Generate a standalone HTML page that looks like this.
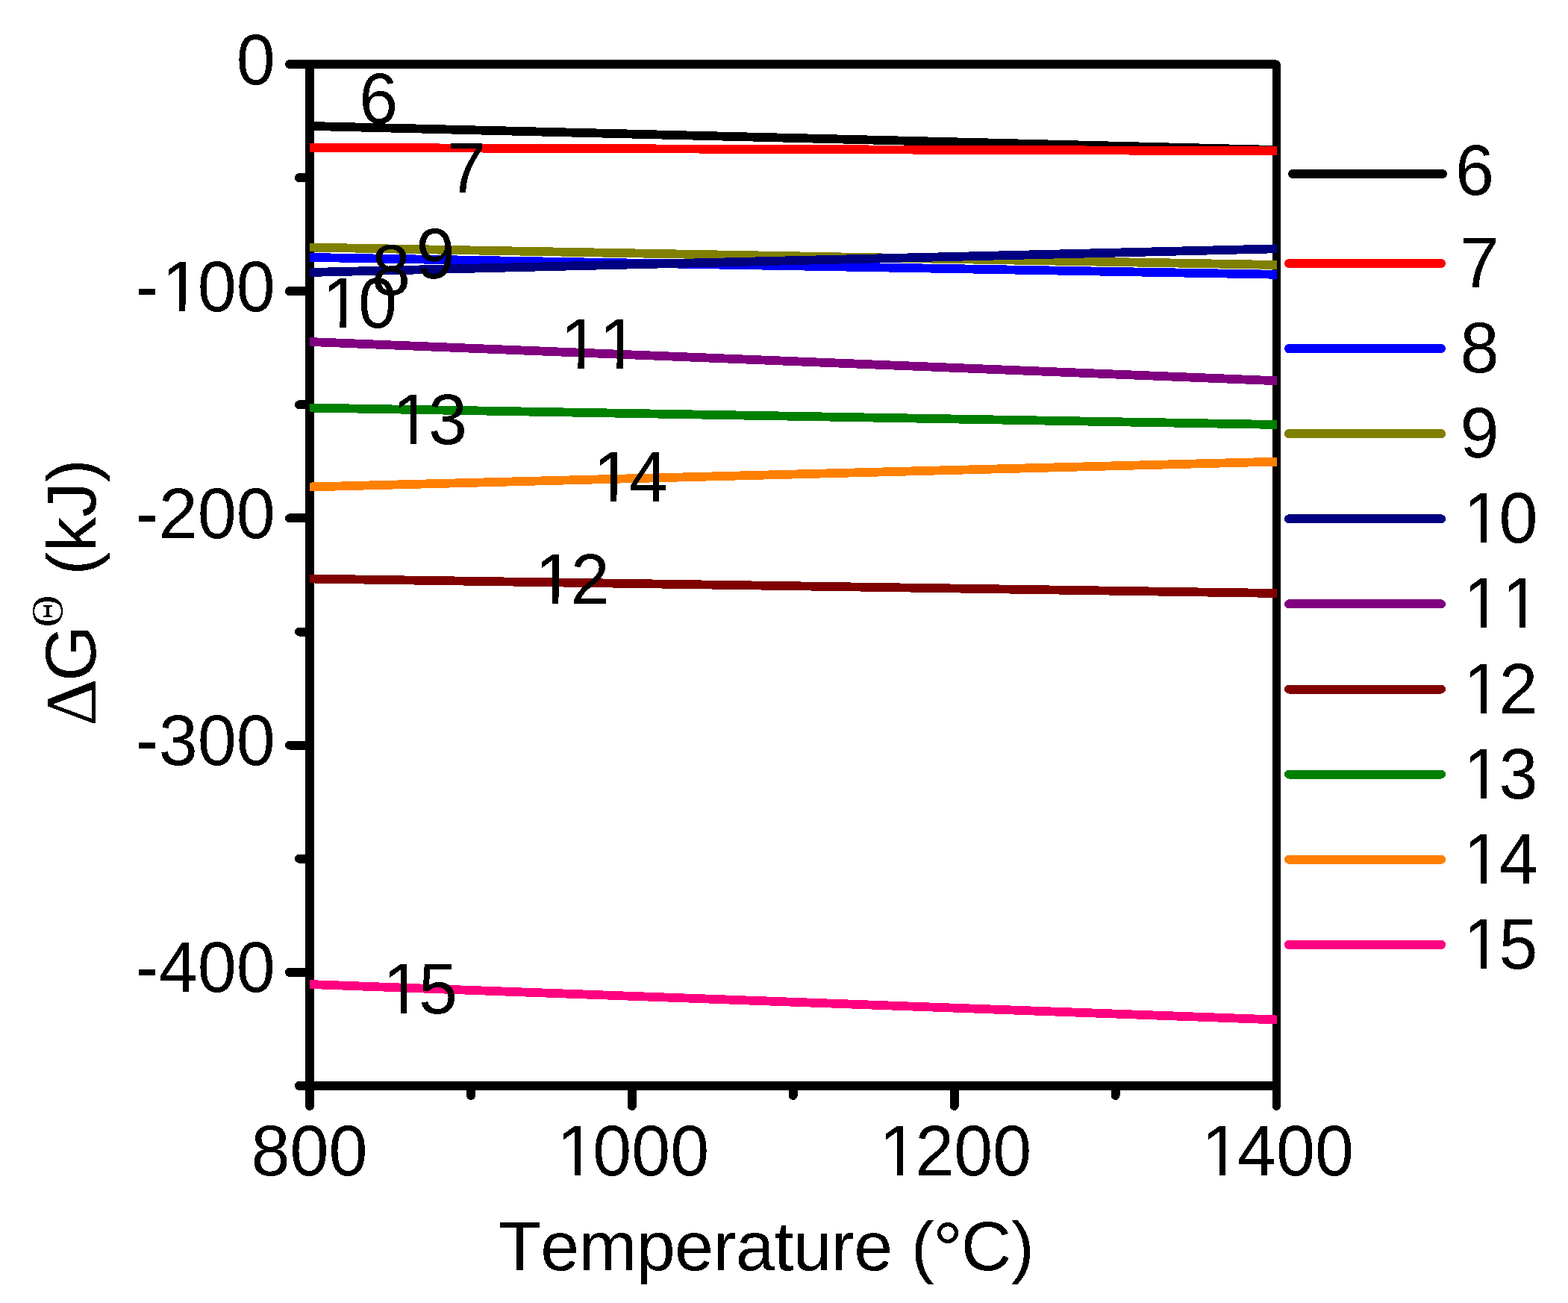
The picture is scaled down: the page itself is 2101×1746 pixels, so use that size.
<!DOCTYPE html>
<html lang="en"><head><meta charset="utf-8"><title>Standard Gibbs free energy vs temperature</title>
<style>html,body{margin:0;padding:0;background:#fff;overflow:hidden;} text{font-kerning:none;} svg{display:block;} text{filter:url(#bin);}</style></head>
<body>
<svg width="2101" height="1746" viewBox="0 0 2101 1746" shape-rendering="crispEdges">
<defs>
<filter id="bin" color-interpolation-filters="sRGB"><feComponentTransfer><feFuncA type="discrete" tableValues="0 1"/></feComponentTransfer></filter>
<mask id="m1" maskUnits="userSpaceOnUse" x="-50" y="-150" width="287" height="250"><rect x="-50" y="-150" width="287" height="250" fill="#fff"/><rect x="40.49" y="-8.99" width="18.00" height="11.99" fill="#000"/><rect x="66.49" y="-8.99" width="18.00" height="11.99" fill="#000"/></mask>
<mask id="m2" maskUnits="userSpaceOnUse" x="-50" y="-150" width="308" height="250"><rect x="-50" y="-150" width="308" height="250" fill="#fff"/><rect x="9.67" y="-8.99" width="18.00" height="11.99" fill="#000"/><rect x="35.67" y="-8.99" width="17.00" height="11.99" fill="#000"/></mask>
<mask id="m3" maskUnits="userSpaceOnUse" x="-50" y="-150" width="308" height="250"><rect x="-50" y="-150" width="308" height="250" fill="#fff"/><rect x="9.83" y="-8.99" width="18.00" height="11.99" fill="#000"/><rect x="35.83" y="-8.99" width="17.00" height="11.99" fill="#000"/></mask>
<mask id="m4" maskUnits="userSpaceOnUse" x="-50" y="-150" width="308" height="250"><rect x="-50" y="-150" width="308" height="250" fill="#fff"/><rect x="9.00" y="-8.99" width="19.00" height="11.99" fill="#000"/><rect x="36.00" y="-8.99" width="17.00" height="11.99" fill="#000"/></mask>
<mask id="m5" maskUnits="userSpaceOnUse" x="-50" y="-150" width="204" height="250"><rect x="-50" y="-150" width="204" height="250" fill="#fff"/><rect x="9.10" y="-8.99" width="18.00" height="11.99" fill="#000"/><rect x="36.10" y="-8.99" width="17.00" height="11.99" fill="#000"/></mask>
<mask id="m6" maskUnits="userSpaceOnUse" x="-50" y="-150" width="204" height="250"><rect x="-50" y="-150" width="204" height="250" fill="#fff"/><rect x="9.10" y="-8.99" width="18.00" height="11.99" fill="#000"/><rect x="36.10" y="-8.99" width="17.00" height="11.99" fill="#000"/><rect x="61.10" y="-8.99" width="18.00" height="11.99" fill="#000"/><rect x="88.10" y="-8.99" width="17.00" height="11.99" fill="#000"/></mask>
<mask id="m7" maskUnits="userSpaceOnUse" x="-50" y="-150" width="204" height="250"><rect x="-50" y="-150" width="204" height="250" fill="#fff"/><rect x="8.90" y="-8.99" width="19.00" height="11.99" fill="#000"/><rect x="35.90" y="-8.99" width="17.00" height="11.99" fill="#000"/></mask>
<mask id="m8" maskUnits="userSpaceOnUse" x="-50" y="-150" width="204" height="250"><rect x="-50" y="-150" width="204" height="250" fill="#fff"/><rect x="9.30" y="-8.99" width="18.00" height="11.99" fill="#000"/><rect x="35.30" y="-8.99" width="18.00" height="11.99" fill="#000"/></mask>
<mask id="m9" maskUnits="userSpaceOnUse" x="-50" y="-150" width="204" height="250"><rect x="-50" y="-150" width="204" height="250" fill="#fff"/><rect x="9.30" y="-8.99" width="18.00" height="11.99" fill="#000"/><rect x="35.30" y="-8.99" width="18.00" height="11.99" fill="#000"/></mask>
<mask id="m10" maskUnits="userSpaceOnUse" x="-50" y="-150" width="204" height="250"><rect x="-50" y="-150" width="204" height="250" fill="#fff"/><rect x="9.00" y="-8.99" width="19.00" height="11.99" fill="#000"/><rect x="36.00" y="-8.99" width="17.00" height="11.99" fill="#000"/></mask>
<mask id="m11" maskUnits="userSpaceOnUse" x="-50" y="-150" width="204" height="250"><rect x="-50" y="-150" width="204" height="250" fill="#fff"/><rect x="9.50" y="-8.99" width="18.00" height="11.99" fill="#000"/><rect x="35.50" y="-8.99" width="17.00" height="11.99" fill="#000"/></mask>
<mask id="m12" maskUnits="userSpaceOnUse" x="-50" y="-150" width="204" height="250"><rect x="-50" y="-150" width="204" height="250" fill="#fff"/><rect x="9.50" y="-8.99" width="18.00" height="11.99" fill="#000"/><rect x="35.50" y="-8.99" width="17.00" height="11.99" fill="#000"/><rect x="61.50" y="-8.99" width="18.00" height="11.99" fill="#000"/><rect x="87.50" y="-8.99" width="17.00" height="11.99" fill="#000"/></mask>
<mask id="m13" maskUnits="userSpaceOnUse" x="-50" y="-150" width="204" height="250"><rect x="-50" y="-150" width="204" height="250" fill="#fff"/><rect x="9.50" y="-8.99" width="18.00" height="11.99" fill="#000"/><rect x="35.50" y="-8.99" width="17.00" height="11.99" fill="#000"/></mask>
<mask id="m14" maskUnits="userSpaceOnUse" x="-50" y="-150" width="204" height="250"><rect x="-50" y="-150" width="204" height="250" fill="#fff"/><rect x="9.50" y="-8.99" width="18.00" height="11.99" fill="#000"/><rect x="35.50" y="-8.99" width="17.00" height="11.99" fill="#000"/></mask>
<mask id="m15" maskUnits="userSpaceOnUse" x="-50" y="-150" width="204" height="250"><rect x="-50" y="-150" width="204" height="250" fill="#fff"/><rect x="9.50" y="-8.99" width="18.00" height="11.99" fill="#000"/><rect x="35.50" y="-8.99" width="17.00" height="11.99" fill="#000"/></mask>
<mask id="m16" maskUnits="userSpaceOnUse" x="-50" y="-150" width="204" height="250"><rect x="-50" y="-150" width="204" height="250" fill="#fff"/><rect x="9.50" y="-8.99" width="18.00" height="11.99" fill="#000"/><rect x="35.50" y="-8.99" width="17.00" height="11.99" fill="#000"/></mask>
</defs>
<rect x="0" y="0" width="2101" height="1746" fill="#fff"/>
<path d="M1710.25,1454.90 H415.0 V86.0 H1710.25" fill="none" stroke="#000" stroke-width="12" stroke-linejoin="round"/>
<path d="M1680.5,86.0 H1710.25 V1454.90 H1680.5" fill="none" stroke="#000" stroke-width="11" stroke-linejoin="round"/>
<line x1="388.0" y1="86.00" x2="415.0" y2="86.00" stroke="#000" stroke-width="12" stroke-linecap="round"/>
<line x1="401.0" y1="238.10" x2="415.0" y2="238.10" stroke="#000" stroke-width="12" stroke-linecap="round"/>
<line x1="388.0" y1="390.20" x2="415.0" y2="390.20" stroke="#000" stroke-width="12" stroke-linecap="round"/>
<line x1="401.0" y1="542.30" x2="415.0" y2="542.30" stroke="#000" stroke-width="12" stroke-linecap="round"/>
<line x1="388.0" y1="694.40" x2="415.0" y2="694.40" stroke="#000" stroke-width="12" stroke-linecap="round"/>
<line x1="401.0" y1="846.50" x2="415.0" y2="846.50" stroke="#000" stroke-width="12" stroke-linecap="round"/>
<line x1="388.0" y1="998.60" x2="415.0" y2="998.60" stroke="#000" stroke-width="12" stroke-linecap="round"/>
<line x1="401.0" y1="1150.70" x2="415.0" y2="1150.70" stroke="#000" stroke-width="12" stroke-linecap="round"/>
<line x1="388.0" y1="1302.80" x2="415.0" y2="1302.80" stroke="#000" stroke-width="12" stroke-linecap="round"/>
<line x1="401.0" y1="1454.90" x2="415.0" y2="1454.90" stroke="#000" stroke-width="12" stroke-linecap="round"/>
<line x1="415.00" y1="1454.90" x2="415.00" y2="1481.90" stroke="#000" stroke-width="12" stroke-linecap="round"/>
<line x1="630.92" y1="1454.90" x2="630.92" y2="1467.90" stroke="#000" stroke-width="12" stroke-linecap="round"/>
<line x1="846.83" y1="1454.90" x2="846.83" y2="1481.90" stroke="#000" stroke-width="12" stroke-linecap="round"/>
<line x1="1062.75" y1="1454.90" x2="1062.75" y2="1467.90" stroke="#000" stroke-width="12" stroke-linecap="round"/>
<line x1="1278.67" y1="1454.90" x2="1278.67" y2="1481.90" stroke="#000" stroke-width="12" stroke-linecap="round"/>
<line x1="1494.58" y1="1454.90" x2="1494.58" y2="1467.90" stroke="#000" stroke-width="12" stroke-linecap="round"/>
<line x1="1710.25" y1="1454.90" x2="1710.25" y2="1482.40" stroke="#000" stroke-width="11" stroke-linecap="round"/>
<line x1="415.0" y1="168.9" x2="1711.0" y2="201.0" stroke="#000000" stroke-width="11.8"/>
<line x1="415.0" y1="197.8" x2="1711.0" y2="202.3" stroke="#FF0000" stroke-width="11.8"/>
<line x1="415.0" y1="344.9" x2="1711.0" y2="367.8" stroke="#0000FF" stroke-width="11.8"/>
<line x1="415.0" y1="331.5" x2="1711.0" y2="355.0" stroke="#808000" stroke-width="11.8"/>
<line x1="415.0" y1="365.0" x2="1711.0" y2="333.3" stroke="#000080" stroke-width="11.8"/>
<line x1="415.0" y1="458.0" x2="1711.0" y2="510.3" stroke="#800080" stroke-width="11.8"/>
<line x1="415.0" y1="775.5" x2="1711.0" y2="795.0" stroke="#800000" stroke-width="11.8"/>
<line x1="415.0" y1="546.5" x2="1711.0" y2="569.0" stroke="#008000" stroke-width="11.8"/>
<line x1="415.0" y1="652.5" x2="1711.0" y2="618.6" stroke="#FF8000" stroke-width="11.8"/>
<line x1="415.0" y1="1319.0" x2="1711.0" y2="1366.5" stroke="#FF0080" stroke-width="11.8"/>
<text transform="translate(316.65,113.00) scale(1,1.04)" font-size="93.5" font-family="'Liberation Sans', Arial, Helvetica, sans-serif">0</text>
<text transform="translate(181.51,417.20) scale(1,1.04)" font-size="93.5" font-family="'Liberation Sans', Arial, Helvetica, sans-serif" mask="url(#m1)">-<tspan dx="4.00">1</tspan><tspan dx="-4.00">0</tspan>0</text>
<text transform="translate(181.51,721.40) scale(1,1.04)" font-size="93.5" font-family="'Liberation Sans', Arial, Helvetica, sans-serif">-200</text>
<text transform="translate(181.51,1024.60) scale(1,1.04)" font-size="93.5" font-family="'Liberation Sans', Arial, Helvetica, sans-serif">-300</text>
<text transform="translate(181.51,1328.80) scale(1,1.04)" font-size="93.5" font-family="'Liberation Sans', Arial, Helvetica, sans-serif">-400</text>
<text transform="translate(336.50,1574.80) scale(1,1.04)" font-size="93.5" font-family="'Liberation Sans', Arial, Helvetica, sans-serif">800</text>
<text transform="translate(742.33,1574.80) scale(1,1.04)" font-size="93.5" font-family="'Liberation Sans', Arial, Helvetica, sans-serif" mask="url(#m2)"><tspan dx="4.00">1</tspan><tspan dx="-4.00">0</tspan>00</text>
<text transform="translate(1174.17,1574.80) scale(1,1.04)" font-size="93.5" font-family="'Liberation Sans', Arial, Helvetica, sans-serif" mask="url(#m3)"><tspan dx="4.00">1</tspan><tspan dx="-4.00">2</tspan>00</text>
<text transform="translate(1606.00,1574.80) scale(1,1.04)" font-size="93.5" font-family="'Liberation Sans', Arial, Helvetica, sans-serif" mask="url(#m4)"><tspan dx="4.00">1</tspan><tspan dx="-4.00">4</tspan>00</text>
<text transform="translate(481.20,165.00) scale(1,1.04)" font-size="93.5" font-family="'Liberation Sans', Arial, Helvetica, sans-serif">6</text>
<text transform="translate(599.10,257.90) scale(1,1.04)" font-size="93.5" font-family="'Liberation Sans', Arial, Helvetica, sans-serif">7</text>
<text transform="translate(498.10,395.00) scale(1,1.04)" font-size="93.5" font-family="'Liberation Sans', Arial, Helvetica, sans-serif">8</text>
<text transform="translate(557.60,373.00) scale(1,1.04)" font-size="93.5" font-family="'Liberation Sans', Arial, Helvetica, sans-serif">9</text>
<text transform="translate(427.90,438.80) scale(1,1.04)" font-size="93.5" font-family="'Liberation Sans', Arial, Helvetica, sans-serif" mask="url(#m5)"><tspan dx="4.00">1</tspan><tspan dx="-4.00">0</tspan></text>
<text transform="translate(746.90,493.80) scale(1,1.04)" font-size="93.5" font-family="'Liberation Sans', Arial, Helvetica, sans-serif" mask="url(#m6)"><tspan dx="4.00">1</tspan>1</text>
<text transform="translate(522.10,595.00) scale(1,1.04)" font-size="93.5" font-family="'Liberation Sans', Arial, Helvetica, sans-serif" mask="url(#m7)"><tspan dx="4.00">1</tspan><tspan dx="-4.00">3</tspan></text>
<text transform="translate(790.70,671.90) scale(1,1.04)" font-size="93.5" font-family="'Liberation Sans', Arial, Helvetica, sans-serif" mask="url(#m8)"><tspan dx="4.00">1</tspan><tspan dx="-4.00">4</tspan></text>
<text transform="translate(712.70,809.30) scale(1,1.04)" font-size="93.5" font-family="'Liberation Sans', Arial, Helvetica, sans-serif" mask="url(#m9)"><tspan dx="4.00">1</tspan><tspan dx="-4.00">2</tspan></text>
<text transform="translate(509.00,1357.90) scale(1,1.04)" font-size="93.5" font-family="'Liberation Sans', Arial, Helvetica, sans-serif" mask="url(#m10)"><tspan dx="4.00">1</tspan><tspan dx="-4.00">5</tspan></text>
<line x1="1732" y1="233.00" x2="1933" y2="233.00" stroke="#000000" stroke-width="12" stroke-linecap="round"/>
<text transform="translate(1949.90,261.00) scale(1,1.04)" font-size="93.5" font-family="'Liberation Sans', Arial, Helvetica, sans-serif">6</text>
<line x1="1727" y1="353.00" x2="1931" y2="353.00" stroke="#FF0000" stroke-width="12" stroke-linecap="round"/>
<text transform="translate(1956.50,385.00) scale(1,1.04)" font-size="93.5" font-family="'Liberation Sans', Arial, Helvetica, sans-serif">7</text>
<line x1="1727" y1="467.10" x2="1931" y2="467.10" stroke="#0000FF" stroke-width="12" stroke-linecap="round"/>
<text transform="translate(1956.50,499.10) scale(1,1.04)" font-size="93.5" font-family="'Liberation Sans', Arial, Helvetica, sans-serif">8</text>
<line x1="1727" y1="581.20" x2="1931" y2="581.20" stroke="#808000" stroke-width="12" stroke-linecap="round"/>
<text transform="translate(1956.50,613.20) scale(1,1.04)" font-size="93.5" font-family="'Liberation Sans', Arial, Helvetica, sans-serif">9</text>
<line x1="1727" y1="695.30" x2="1931" y2="695.30" stroke="#000080" stroke-width="12" stroke-linecap="round"/>
<text transform="translate(1956.50,727.30) scale(1,1.04)" font-size="93.5" font-family="'Liberation Sans', Arial, Helvetica, sans-serif" mask="url(#m11)"><tspan dx="4.00">1</tspan><tspan dx="-4.00">0</tspan></text>
<line x1="1727" y1="809.40" x2="1931" y2="809.40" stroke="#800080" stroke-width="12" stroke-linecap="round"/>
<text transform="translate(1956.50,841.40) scale(1,1.04)" font-size="93.5" font-family="'Liberation Sans', Arial, Helvetica, sans-serif" mask="url(#m12)"><tspan dx="4.00">1</tspan>1</text>
<line x1="1727" y1="923.50" x2="1931" y2="923.50" stroke="#800000" stroke-width="12" stroke-linecap="round"/>
<text transform="translate(1956.50,955.50) scale(1,1.04)" font-size="93.5" font-family="'Liberation Sans', Arial, Helvetica, sans-serif" mask="url(#m13)"><tspan dx="4.00">1</tspan><tspan dx="-4.00">2</tspan></text>
<line x1="1727" y1="1037.60" x2="1931" y2="1037.60" stroke="#008000" stroke-width="12" stroke-linecap="round"/>
<text transform="translate(1956.50,1069.60) scale(1,1.04)" font-size="93.5" font-family="'Liberation Sans', Arial, Helvetica, sans-serif" mask="url(#m14)"><tspan dx="4.00">1</tspan><tspan dx="-4.00">3</tspan></text>
<line x1="1727" y1="1151.70" x2="1931" y2="1151.70" stroke="#FF8000" stroke-width="12" stroke-linecap="round"/>
<text transform="translate(1956.50,1183.70) scale(1,1.04)" font-size="93.5" font-family="'Liberation Sans', Arial, Helvetica, sans-serif" mask="url(#m15)"><tspan dx="4.00">1</tspan><tspan dx="-4.00">4</tspan></text>
<line x1="1727" y1="1265.80" x2="1931" y2="1265.80" stroke="#FF0080" stroke-width="12" stroke-linecap="round"/>
<text transform="translate(1956.50,1297.80) scale(1,1.04)" font-size="93.5" font-family="'Liberation Sans', Arial, Helvetica, sans-serif" mask="url(#m16)"><tspan dx="4.00">1</tspan><tspan dx="-4.00">5</tspan></text>
<text transform="translate(667.9,1701.7)" font-size="93.5" font-family="'Liberation Sans', Arial, Helvetica, sans-serif" letter-spacing="-0.7">Temperature (<tspan font-size="101" dx="-1.5" dy="6.5">°</tspan><tspan dx="-1.5" dy="-6.5">C)</tspan></text>
<text transform="translate(128,972.7) rotate(-90)" font-size="93.5" font-family="'Liberation Sans', Arial, Helvetica, sans-serif"><tspan font-family="'Liberation Serif', 'Times New Roman', serif" font-size="98">Δ</tspan><tspan font-size="96.5" dx="-3.35">G</tspan><tspan font-family="'Liberation Serif', 'Times New Roman', serif" font-size="59" dx="-2.3" dy="-44.9">Θ</tspan><tspan dx="0.9" dy="44.9"> (kJ)</tspan></text>
</svg>
</body></html>
